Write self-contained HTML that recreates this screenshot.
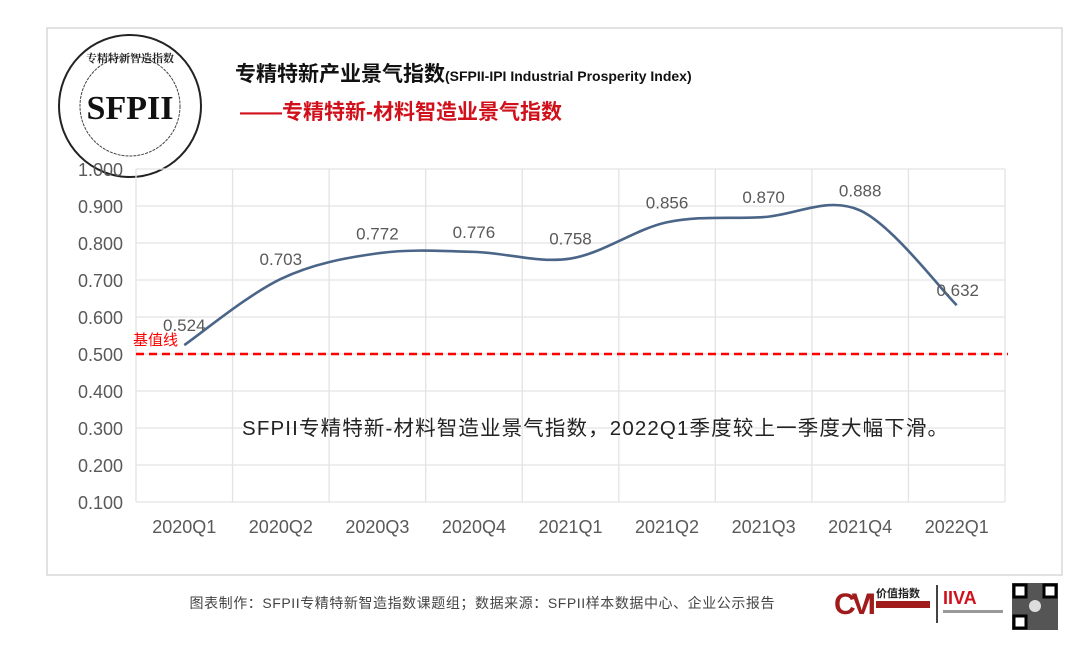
<!DOCTYPE html>
<html><head><meta charset="utf-8"><style>
body{margin:0;background:#fff;width:1080px;height:666px;overflow:hidden;font-family:"Liberation Sans","Noto Sans CJK SC",sans-serif}
</style></head><body>
<svg width="1080" height="666" style="position:absolute;left:0;top:0">
<rect x="47" y="28" width="1015" height="547" fill="#fff" stroke="#d9d9d9" stroke-width="1.5"/>
<g>
<circle cx="130" cy="106" r="71" fill="#fff" stroke="#222" stroke-width="2"/>
<circle cx="130" cy="106" r="50" fill="none" stroke="#444" stroke-width="1" stroke-dasharray="3 1"/>
<text x="130" y="119" text-anchor="middle" font-family="Liberation Serif,serif" font-weight="bold" font-size="34" fill="#111">SFPII</text>
<text x="130" y="62" text-anchor="middle" font-family="Noto Serif CJK SC,serif" font-weight="bold" font-size="11" fill="#222">专精特新智造指数</text>
</g>
<text x="235" y="81" font-size="21" font-weight="bold" fill="#111">专精特新产业景气指数<tspan font-size="14">(SFPII-IPI Industrial Prosperity Index)</tspan></text>
<text x="240" y="119" font-size="21" font-weight="bold" fill="#d0101a">——专精特新-材料智造业景气指数</text>
<g id="grid"></g>
<g id="axes"></g>
<g id="series"></g>
<text x="242" y="435" font-size="20.5" fill="#222" textLength="706">SFPII专精特新-材料智造业景气指数，2022Q1季度较上一季度大幅下滑。</text>
<text x="482" y="608" text-anchor="middle" font-size="14" fill="#444" textLength="585">图表制作：SFPII专精特新智造指数课题组；数据来源：SFPII样本数据中心、企业公示报告</text>
<g>
<text x="834" y="614" font-size="30" font-weight="bold" fill="#a01c1c" font-family="Liberation Sans Narrow,Liberation Sans,sans-serif" textLength="42">CVI</text>
<text x="876" y="597" font-size="11" font-weight="bold" fill="#222">价值指数</text>
<rect x="876" y="601" width="54" height="7" fill="#a01c1c"/>
<rect x="936" y="585" width="2" height="38" fill="#444"/>
<text x="943" y="604" font-size="18" font-weight="bold" fill="#d0101a">IIVA</text>
<rect x="943" y="610" width="60" height="3" fill="#999"/>
</g>
<g>
<rect x="1012" y="583" width="46" height="47" fill="#555"/>
<rect x="1014" y="585" width="12" height="12" fill="#fff" stroke="#000" stroke-width="3"/>
<rect x="1044" y="585" width="12" height="12" fill="#fff" stroke="#000" stroke-width="3"/>
<rect x="1014" y="616" width="12" height="12" fill="#fff" stroke="#000" stroke-width="3"/>
<circle cx="1035" cy="606" r="6" fill="#ddd"/>
</g>
</svg>
<script>
const categories=["2020Q1","2020Q2","2020Q3","2020Q4","2021Q1","2021Q2","2021Q3","2021Q4","2022Q1"];
const values=[0.524,0.703,0.772,0.776,0.758,0.856,0.870,0.888,0.632];
const labels=["0.524","0.703","0.772","0.776","0.758","0.856","0.870","0.888","0.632"];
const yTicks=[0.1,0.2,0.3,0.4,0.5,0.6,0.7,0.8,0.9,1.0];
const baseline=[0.5];
const NS="http://www.w3.org/2000/svg";
const L=136,R=1005,T=169,B=502,ymin=0.1,ymax=1.0;
const bw=(R-L)/categories.length;
const x=i=>L+bw*(i+0.5);
const y=v=>B-(v-ymin)/(ymax-ymin)*(B-T);
function mk(tag,attrs,parent,txt){const e=document.createElementNS(NS,tag);for(const k in attrs)e.setAttribute(k,attrs[k]);if(txt!==undefined)e.textContent=txt;document.getElementById(parent).appendChild(e);return e;}
yTicks.forEach(t=>{
 const g=mk('line',{x1:L,x2:R,y1:y(t),y2:y(t),stroke:'#e3e3e3','stroke-width':1.3},'grid');
 
 
 const lb=mk('text',{x:123,y:y(t)+7,'text-anchor':'end','font-size':18,fill:'#595959'},'axes',t.toFixed(3));
 
 
});
for(let i=0;i<=categories.length;i++){
 const v=mk('line',{x1:L+bw*i,x2:L+bw*i,y1:T,y2:B,stroke:'#e3e3e3','stroke-width':1.3},'grid');
 
 
}
categories.forEach((c,i)=>{
 const t=mk('text',{x:x(i),y:533,'text-anchor':'middle','font-size':18,fill:'#595959'},'axes',c);
 
 
});
const bl=mk('line',{x1:L,x2:R+3,y1:y(baseline[0]),y2:y(baseline[0]),stroke:'#ff0000','stroke-width':2.5,'stroke-dasharray':'8 5'},'series');


const blt=mk('text',{x:133,y:y(baseline[0])-9,'font-size':15,fill:'#ff0000'},'series','基值线');


const pts=values.map((v,i)=>[x(i),y(v)]);
let d='M'+pts[0][0]+','+pts[0][1];
for(let i=0;i<pts.length-1;i++){
 const p0=pts[Math.max(0,i-1)],p1=pts[i],p2=pts[i+1],p3=pts[Math.min(pts.length-1,i+2)];
 const k=1/6;
 d+=' C'+(p1[0]+(p2[0]-p0[0])*k)+','+(p1[1]+(p2[1]-p0[1])*k)+' '+(p2[0]-(p3[0]-p1[0])*k)+','+(p2[1]-(p3[1]-p1[1])*k)+' '+p2[0]+','+p2[1];
}
const line=mk('path',{d:d,fill:'none',stroke:'#4a6587','stroke-width':2.6},'series');


values.forEach((v,i)=>{
 const t=mk('text',{x:x(i)+(i===8?1:0),y:y(v)-14+(i===8?5:0),'text-anchor':'middle','font-size':17,fill:'#595959'},'series',labels[i]);
 
 
});
</script>
</body></html>
